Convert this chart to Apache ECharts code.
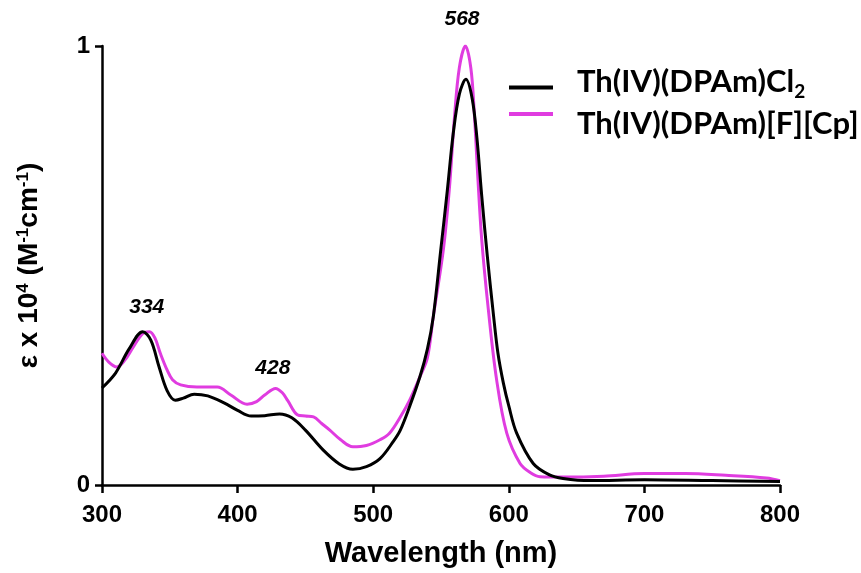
<!DOCTYPE html>
<html><head><meta charset="utf-8">
<script src="https://cdn.jsdelivr.net/npm/echarts@6/dist/echarts.min.js"></script>
<style>html,body{margin:0;padding:0;background:#fff}#c{width:861px;height:573px}</style>
</head><body><div id="c"></div>
<script>
const clWave = [300,310,320,330,336,342,348,354,360,368,378,390,400,410,420,431,440,450,463,475,485,495,505,515,520,527,534.5,540,544.3,549.8,554.7,559,563.5,568.4,573,576.5,580,584.2,588.6,592,596,600,605.8,618,630,640,660,700,750,800];
const clEps  = [0.221,0.255,0.31,0.349,0.33,0.27,0.215,0.193,0.198,0.207,0.203,0.187,0.17,0.157,0.158,0.162,0.153,0.125,0.08,0.048,0.036,0.042,0.06,0.10,0.125,0.18,0.247,0.31,0.383,0.535,0.672,0.80,0.89,0.924,0.88,0.79,0.66,0.52,0.39,0.30,0.232,0.18,0.118,0.049,0.023,0.015,0.01,0.012,0.01,0.008];
const fcWave = [300,305,311,317,323,330,335,339,343,348,352,358,370,385,395,407,414,420,428,433,437,444,450,456,462,468,476,485,495,505,512,520,527,534.5,540,544.3,551.7,556.1,560,563.5,568,572,574.5,577,580,584.9,591,598.5,608.3,616,623,640,670,700,730,760,790,800];
const fcEps  = [0.30,0.28,0.269,0.285,0.314,0.345,0.349,0.335,0.30,0.262,0.24,0.228,0.223,0.223,0.205,0.184,0.19,0.205,0.22,0.21,0.192,0.16,0.157,0.155,0.14,0.125,0.103,0.087,0.09,0.103,0.118,0.155,0.194,0.247,0.29,0.383,0.535,0.672,0.84,0.95,1.0,0.95,0.85,0.71,0.56,0.40,0.24,0.118,0.049,0.028,0.019,0.018,0.02,0.026,0.026,0.022,0.016,0.01];
const seriesNames = ['Th(IV)(DPAm)Cl2','Th(IV)(DPAm)[F][Cp]'];
const annWave = [333,426,565.5];
const annEps  = [0.405,0.266,1.06];
const annText = ['334','428','568'];
const xTicks = [300,400,500,600,700,800];
const yTicks = [0,1];

const zip = (a,b)=>a.map((v,i)=>[v,b[i]]);
const chart = echarts.init(document.getElementById('c'));
const tickFont = {fontFamily:'Liberation Sans',fontWeight:'bold',fontSize:24,color:'#000'};
const legBase = {orient:'vertical', left:509, itemGap:0, padding:0, itemWidth:44, itemHeight:4, icon:'rect'};
chart.setOption({
  animation:false,
  grid:{left:102,right:81,top:46,bottom:88},
  legend:[
    Object.assign({}, legBase, {top:66, data:[seriesNames[0]],
      formatter:()=>'{m|Th(IV)(DPAm)Cl}{s|2}',
      textStyle:{rich:{
        m:{fontFamily:'Lato',fontWeight:'bold',fontSize:31,color:'#000',lineHeight:34,padding:[0,0,12,19]},
        s:{fontFamily:'Lato',fontWeight:'bold',fontSize:19,color:'#000',lineHeight:34,padding:[10,0,2,0]}
      }}}),
    Object.assign({}, legBase, {top:89, data:[seriesNames[1]],
      formatter:n=>'{m|'+n+'}',
      textStyle:{rich:{
        m:{fontFamily:'Lato',fontWeight:'bold',fontSize:31,color:'#000',lineHeight:34,padding:[19,0,0,19]}
      }}})
  ],
  xAxis:{
    type:'value', min:300, max:800, interval:100,
    name:'Wavelength (nm)', nameLocation:'middle', nameGap:54,
    nameTextStyle:{fontFamily:'Liberation Sans',fontWeight:'bold',fontSize:29,color:'#000'},
    axisLine:{lineStyle:{color:'#000',width:2.5}},
    axisTick:{show:true,length:8,lineStyle:{color:'#000',width:2.5}},
    axisLabel:Object.assign({margin:18,formatter:v=>xTicks.includes(v)?String(v):''},tickFont),
    splitLine:{show:false}
  },
  yAxis:{
    type:'value', min:0, max:1, interval:1,
    name:'{a|ε x 10}{sup|4}{a| (M}{sup|-1}{a|cm}{sup|-1}{a|)}',
    nameLocation:'middle', nameGap:58, nameRotate:90,
    nameTextStyle:{rich:{
      a:{fontFamily:'Liberation Sans',fontWeight:'bold',fontSize:28,color:'#000'},
      sup:{fontFamily:'Liberation Sans',fontWeight:'bold',fontSize:17,color:'#000',verticalAlign:'top',padding:[0,0,12,0]}
    }},
    axisLine:{show:true,lineStyle:{color:'#000',width:2.5}},
    axisTick:{show:true,length:7,lineStyle:{color:'#000',width:2.5}},
    axisLabel:Object.assign({margin:12,formatter:v=>yTicks.includes(v)?String(v):''},tickFont),
    splitLine:{show:false}
  },
  series:[
    {name:seriesNames[0],type:'line',data:zip(clWave,clEps),smooth:0.35,showSymbol:false,
     lineStyle:{color:'#000',width:3},itemStyle:{color:'#000'},z:3},
    {name:seriesNames[1],type:'line',data:zip(fcWave,fcEps),smooth:0.35,showSymbol:false,
     lineStyle:{color:'#e03ce0',width:3},itemStyle:{color:'#e03ce0'},z:2},
    {type:'scatter',symbolSize:0,clip:false,silent:true,itemStyle:{opacity:1},
     data:annWave.map((w,i)=>({value:[w,annEps[i]]})),
     label:{show:true,position:'inside',formatter:p=>annText[p.dataIndex],
            fontFamily:'Liberation Sans',fontWeight:'bold',fontStyle:'italic',fontSize:21,color:'#000',opacity:1,textBorderWidth:0}}
  ]
});
</script></body></html>
